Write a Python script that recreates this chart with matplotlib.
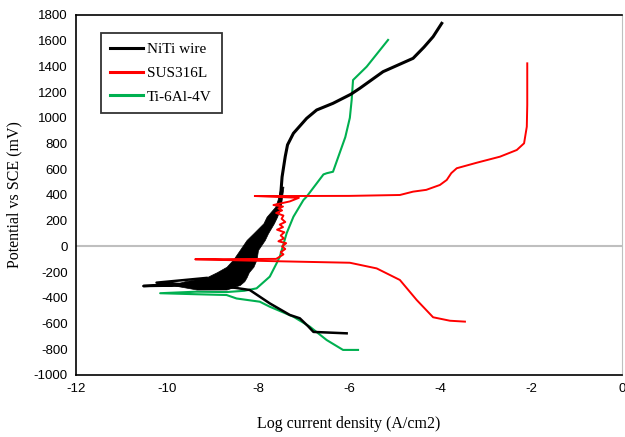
import matplotlib
matplotlib.use('Agg')
import matplotlib.pyplot as plt

plt.rcParams['axes.unicode_minus'] = False

# ===== DADOS =====
# NiTi wire - ramo catódico
niti_x = [-6.05, -6.78, -6.9, -7.08, -7.30, -7.74, -8.18, -8.5, -9.3, -10.52, -9.6,
          -10.23, -9.13]
niti_y = [-676, -665, -620, -559, -533, -443, -339, -322, -302, -308, -295,
          -282, -245]
# NiTi wire - ramo anódico
niti_anod_x = [-7.52, -7.50, -7.47, -7.40, -7.35, -7.22, -6.93, -6.71, -6.35, -5.96,
               -5.76, -5.25, -4.59, -4.35, -4.15, -3.96]
niti_anod_y = [330, 400, 540, 700, 790, 880, 996, 1061, 1113, 1183,
               1230, 1359, 1463, 1550, 1631, 1735]
# faixa ruidosa do NiTi (potencial, borda esquerda, borda direita)
niti_band_y = [-335, -300, -270, -240, -200, -158, -100, -28, 50, 102, 180, 231, 309, 361, 465]
niti_band_l = [-9.35, -9.9, -9.6, -9.13, -8.9, -8.69, -8.54, -8.40, -8.25, -8.10, -7.88, -7.81,
               -7.62, -7.57, -7.50]
niti_band_r = [-8.69, -8.40, -8.3, -8.25, -8.2, -8.1, -8.03, -8.0, -7.85, -7.78, -7.65, -7.58,
               -7.50, -7.48, -7.44]

# SUS316L
sus_x = [-3.45, -3.78, -4.15, -4.51, -4.88, -5.39, -5.98, -7.08, -8.0, -9.38,
         -7.6, -7.52, -7.44, -7.5, -7.40, -7.47, -7.38, -7.55, -7.43, -7.5, -7.42, -7.58,
         -7.45, -7.52, -7.40, -7.48, -7.44, -7.6, -7.47, -7.55, -7.45, -7.66,
         -7.3, -7.1, -8.07, -7.5, -6.0, -4.88, -4.59, -4.3, -4.0, -3.85,
         -3.75, -3.63, -3.19, -2.68, -2.31, -2.15, -2.09, -2.08, -2.08]
sus_y = [-585, -578, -551, -417, -261, -171, -127, -119, -112, -100,
         -97, -80, -62, -45, -20, 0, 25, 40, 62, 85, 110, 130,
         150, 170, 190, 215, 240, 260, 280, 295, 310, 322,
         350, 378, 392, 392, 393, 400, 426, 440, 478, 517,
         570, 608, 651, 698, 750, 802, 931, 1100, 1424]

# Ti-6Al-4V
ti_x = [-5.14, -5.61, -5.91, -5.94, -5.98, -6.08, -6.35, -6.49, -6.56, -6.93, -7.0, -7.22,
        -7.37, -7.52, -7.59, -7.74, -8.03, -8.3, -8.69, -9.35, -10.15, -9.35, -8.69, -8.47,
        -7.96, -7.74, -7.22, -6.86, -6.49, -6.13, -5.80]
ti_y = [1606, 1398, 1294, 1139, 1000, 850, 581, 569, 560, 387, 361, 231,
        102, -80, -131, -235, -326, -345, -355, -352, -364, -372, -378, -405,
        -430, -469, -547, -624, -728, -805, -805]

x_ticks = [-12, -10, -8, -6, -4, -2, 0]
y_ticks = list(range(-1000, 1801, 200))

# ===== GRÁFICO =====
fig = plt.figure(figsize=(6.25, 4.37), dpi=100)
ax = fig.add_axes([0.1216, 0.1419, 0.8734, 0.8238])

ax.axhline(0, color='#bfbfbf', lw=1.5, zorder=1)

ax.fill_betweenx(niti_band_y, niti_band_l, niti_band_r, color='black', lw=0.5, zorder=3)
ax.plot(niti_x, niti_y, color='black', lw=1.8, zorder=3)
ax.plot(niti_anod_x, niti_anod_y, color='black', lw=2.2, zorder=3, label='NiTi wire')
ax.plot(sus_x, sus_y, color='#ff0000', lw=1.4, zorder=4, label='SUS316L')
ax.plot(ti_x, ti_y, color='#00b050', lw=1.5, zorder=2, label='Ti-6Al-4V')

ax.set_xlim(-12, 0)
ax.set_ylim(-1000, 1800)
ax.set_xticks(x_ticks)
ax.set_yticks(y_ticks)
ax.tick_params(length=0, labelsize=9.5, pad=6)
for lab in ax.get_xticklabels() + ax.get_yticklabels():
    lab.set_fontfamily('Liberation Sans')

for s in ['left', 'bottom', 'top']:
    ax.spines[s].set_color('black')
    ax.spines[s].set_linewidth(1.2)
ax.spines['right'].set_color('#bfbfbf')

ax.set_xlabel('Log current density (A/cm2)', family='Liberation Serif', fontsize=11.5, labelpad=15)
ax.set_ylabel('Potential vs SCE (mV)', family='Liberation Serif', fontsize=11.5, labelpad=8)

leg = ax.legend(loc='upper left', bbox_to_anchor=(0.045, 0.951), borderaxespad=0,
                prop={'family': 'Liberation Serif', 'size': 11}, fancybox=False,
                edgecolor='black', handlelength=2.1, handletextpad=0.3,
                labelspacing=0.65, borderpad=0.65)
leg.get_frame().set_linewidth(1.3)
for h in leg.get_lines():
    h.set_linewidth(2.2)

plt.savefig('out.png', dpi=100)
plt.close()
